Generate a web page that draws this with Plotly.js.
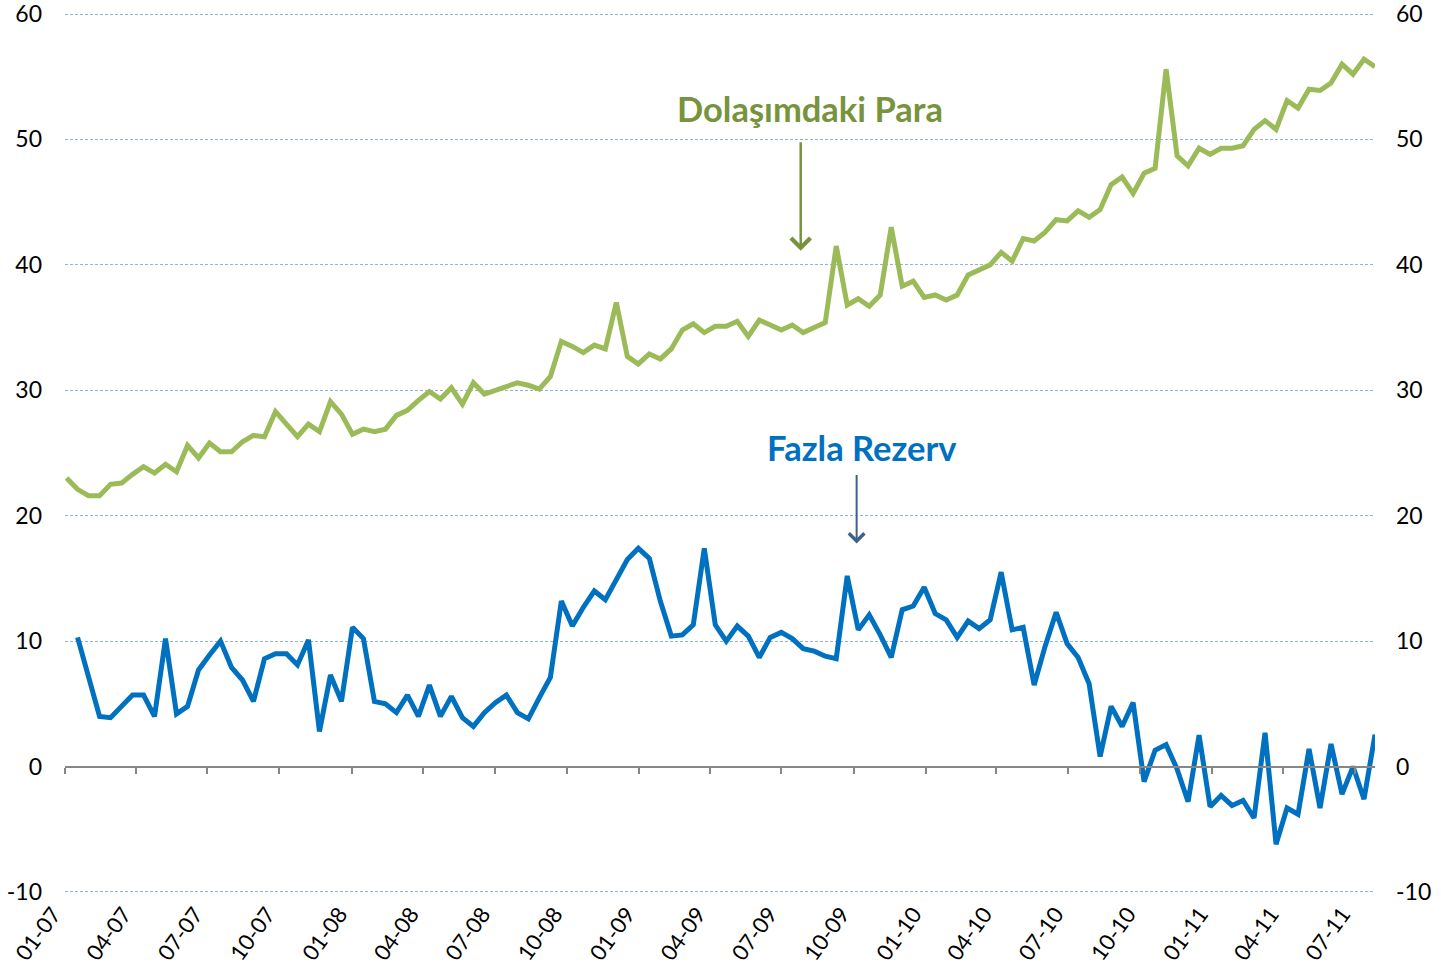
<!DOCTYPE html>
<html>
<head>
<meta charset="utf-8">
<script src="https://cdn.plot.ly/plotly-3.0.1.min.js"></script>
<style>html,body{margin:0;padding:0;background:#fff;}#chart{width:1441px;height:974px;}</style>
</head>
<body>
<div id="chart"></div>
<script>
// Biweekly observations starting 2007-01-03
const startDate = '2007-01-03';
const stepDays = 14;
const pointCount = 120;

// Dolaşımdaki Para (currency in circulation)
const dolasimdakiPara = [
  23.0, 22.1, 21.6, 21.6, 22.5, 22.6, 23.3, 23.9, 23.4, 24.1,
  23.5, 25.6, 24.6, 25.8, 25.1, 25.1, 25.9, 26.4, 26.3, 28.3,
  27.3, 26.3, 27.3, 26.7, 29.1, 28.1, 26.5, 26.9, 26.7, 26.9,
  28.0, 28.4, 29.2, 29.9, 29.3, 30.2, 28.9, 30.6, 29.7, 30.0,
  30.3, 30.6, 30.4, 30.1, 31.1, 33.9, 33.5, 33.0, 33.6, 33.3,
  37.0, 32.7, 32.1, 32.9, 32.5, 33.3, 34.8, 35.3, 34.6, 35.1,
  35.1, 35.5, 34.3, 35.6, 35.2, 34.8, 35.2, 34.6, 35.0, 35.4,
  41.5, 36.8, 37.3, 36.7, 37.6, 43.0, 38.3, 38.7, 37.4, 37.6,
  37.2, 37.6, 39.2, 39.6, 40.0, 41.0, 40.3, 42.1, 41.9, 42.6,
  43.6, 43.5, 44.3, 43.8, 44.4, 46.4, 47.0, 45.7, 47.3, 47.7,
  55.6, 48.7, 47.9, 49.3, 48.8, 49.3, 49.3, 49.5, 50.8, 51.5,
  50.8, 53.1, 52.5, 54.0, 53.9, 54.5, 56.0, 55.2, 56.4, 55.8
];

// Fazla Rezerv (excess reserves)
const fazlaRezerv = [
  null, 10.3, 7.1, 4.0, 3.9, 4.8, 5.7, 5.7, 4.0, 10.2,
  4.2, 4.8, 7.7, 8.9, 10.0, 7.9, 6.9, 5.2, 8.6, 9.0,
  9.0, 8.1, 10.1, 2.8, 7.3, 5.2, 11.1, 10.2, 5.2, 5.0,
  4.3, 5.7, 4.0, 6.5, 4.0, 5.6, 3.9, 3.2, 4.3, 5.1,
  5.7, 4.3, 3.8, 5.5, 7.1, 13.2, 11.2, 12.7, 14.0, 13.3,
  14.9, 16.5, 17.4, 16.6, 13.2, 10.4, 10.5, 11.3, 17.4, 11.3,
  10.0, 11.2, 10.4, 8.7, 10.3, 10.7, 10.2, 9.4, 9.2, 8.8,
  8.6, 15.2, 10.9, 12.1, 10.5, 8.7, 12.5, 12.8, 14.3, 12.2,
  11.7, 10.3, 11.6, 11.0, 11.7, 15.5, 10.9, 11.1, 6.5, 9.6,
  12.3, 9.8, 8.7, 6.6, 0.8, 4.8, 3.2, 5.1, -1.2, 1.3,
  1.75, -0.2, -2.8, 2.5, -3.2, -2.3, -3.1, -2.7, -4.1, 2.7,
  -6.2, -3.3, -3.8, 1.4, -3.3, 1.8, -2.2, 0.0, -2.6, 2.55
];

const yTicks = [-10, 0, 10, 20, 30, 40, 50, 60];
const yTickText = ['-10', '0', '10', '20', '30', '40', '50', '60'];
const xRange = ['2007-01-01', '2011-07-27'];
const greenLabel = 'Dolaşımdaki Para';
const blueLabel = 'Fazla Rezerv';

const dates = [];
{
  const t0 = Date.parse(startDate + 'T00:00:00Z');
  for (let i = 0; i < pointCount; i++) {
    dates.push(new Date(t0 + i * stepDays * 86400000).toISOString().slice(0, 10));
  }
}

const yMin = yTicks[0], yMax = yTicks[yTicks.length - 1];
const pad = 0.16;
const yRange = [yMin - pad, yMax + pad];

const FONT = 'Lato, "Open Sans", sans-serif';
const TICKFONT = '"Liberation Sans Narrow", Lato, sans-serif';
const gridColor = '#95B3D7';

const traces = [
  {
    x: dates, y: dolasimdakiPara, type: 'scatter', mode: 'lines',
    name: greenLabel, line: {color: '#9BBB59', width: 5}, xaxis: 'x', yaxis: 'y',
    hoverinfo: 'x+y'
  },
  {
    x: dates, y: fazlaRezerv, type: 'scatter', mode: 'lines',
    name: blueLabel, line: {color: '#0070C0', width: 5}, xaxis: 'x2', yaxis: 'y2',
    connectgaps: false, hoverinfo: 'x+y'
  }
];

const zeroPos = (0 - yRange[0]) / (yRange[1] - yRange[0]);

const layout = {
  width: 1441, height: 974,
  margin: {l: 65, r: 66, t: 12, b: 80},
  paper_bgcolor: '#ffffff', plot_bgcolor: '#ffffff',
  showlegend: false,
  font: {family: FONT, size: 22, color: '#000000'},
  xaxis: {
    type: 'date', range: xRange,
    tick0: '2007-01-01', dtick: 'M3', tickformat: '%m-%y',
    tickangle: -54, ticks: '', showgrid: false, zeroline: false, showline: false,
    ticklabelshift: -12, ticklabelstandoff: 2, ticklabeloverflow: 'allow',
    tickfont: {family: TICKFONT, size: 22, color: '#000'}
  },
  xaxis2: {
    type: 'date', range: xRange, overlaying: 'x', anchor: 'free', position: zeroPos,
    tick0: '2007-01-01', dtick: 'M3', showticklabels: false,
    ticks: 'outside', ticklen: 6, tickwidth: 2, tickcolor: '#868686',
    showline: true, linecolor: '#868686', linewidth: 2,
    showgrid: false, zeroline: false
  },
  yaxis: {
    range: yRange, tickvals: yTicks, ticktext: yTickText,
    showgrid: true, gridcolor: gridColor, gridwidth: 1, griddash: '3px,2px',
    zeroline: false, showline: false, ticks: '', ticklabelstandoff: 22,
    ticklabeloverflow: 'allow',
    tickfont: {family: TICKFONT, size: 23, color: '#000'}
  },
  yaxis2: {
    range: yRange, tickvals: yTicks, ticktext: yTickText, overlaying: 'y', side: 'right', anchor: 'x2',
    showgrid: false, zeroline: false, showline: false, ticks: '', ticklabelstandoff: 20,
    ticklabeloverflow: 'allow',
    tickfont: {family: TICKFONT, size: 23, color: '#000'}
  },
  annotations: [
    {
      xref: 'paper', yref: 'paper', x: 0.5687, y: 0.8907, xanchor: 'center', yanchor: 'middle',
      text: '<b>' + greenLabel + '</b>', showarrow: false,
      font: {family: FONT, size: 34.5, color: '#77933C'}
    },
    {
      xref: 'paper', yref: 'paper', x: 0.6084, y: 0.5068, xanchor: 'center', yanchor: 'middle',
      text: '<b>' + blueLabel + '</b>', showarrow: false,
      font: {family: FONT, size: 34.5, color: '#0070C0'}
    },
    {
      xref: 'paper', yref: 'paper', x: 0.5616, y: 0.7293, text: '',
      showarrow: true, arrowhead: 4, arrowsize: 1.5, arrowwidth: 2.5, arrowcolor: '#77933C',
      ax: 0, ay: -110, standoff: 0
    },
    {
      xref: 'paper', yref: 'paper', x: 0.6043, y: 0.3975, text: '',
      showarrow: true, arrowhead: 4, arrowsize: 1.5, arrowwidth: 2, arrowcolor: '#3F5F8F',
      ax: 0, ay: -70, standoff: 0
    }
  ]
};

Plotly.newPlot('chart', traces, layout, {displayModeBar: false, responsive: false});
</script>
</body>
</html>
